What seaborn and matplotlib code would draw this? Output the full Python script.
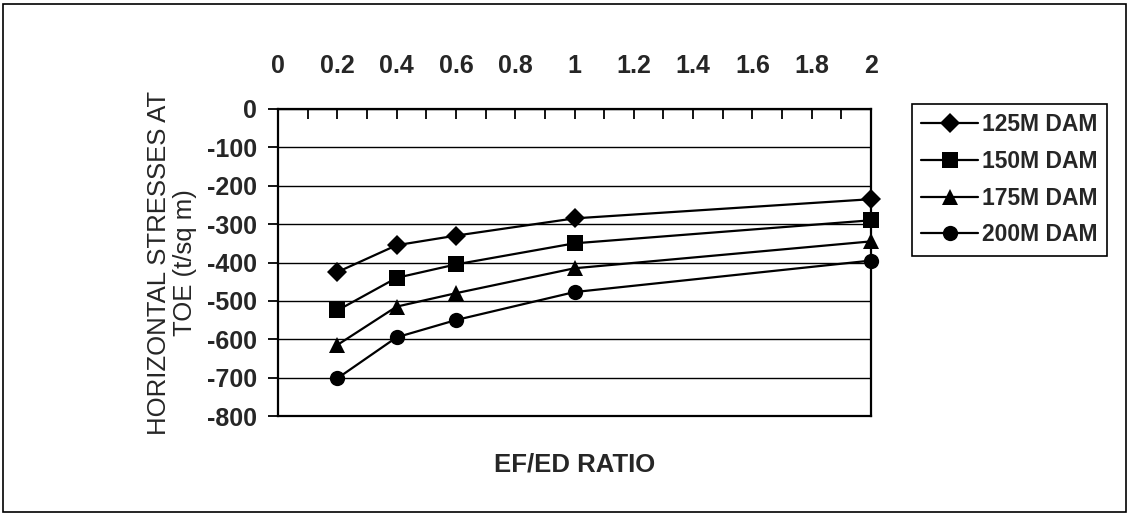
import matplotlib
matplotlib.use("Agg")
import matplotlib.pyplot as plt
from matplotlib.patches import Rectangle
from matplotlib.ticker import MultipleLocator
import numpy as np
import pandas as pd
import seaborn as sns

# EF/ED ratio and horizontal stresses at toe (t/sq m) for each dam height
ratio = [0.2, 0.4, 0.6, 1.0, 2.0]
dam_125 = [-425, -355, -330, -285, -235]
dam_150 = [-525, -440, -405, -350, -290]
dam_175 = [-615, -515, -480, -415, -345]
dam_200 = [-702, -595, -550, -477, -395]
series_names = ["125M DAM", "150M DAM", "175M DAM", "200M DAM"]
x_ticks = [0, 0.2, 0.4, 0.6, 0.8, 1, 1.2, 1.4, 1.6, 1.8, 2]
x_tick_labels = ["0", "0.2", "0.4", "0.6", "0.8", "1", "1.2", "1.4", "1.6", "1.8", "2"]
y_ticks = [0, -100, -200, -300, -400, -500, -600, -700, -800]

frames = []
for name, vals in zip(series_names, [dam_125, dam_150, dam_175, dam_200]):
    frames.append(pd.DataFrame({"ratio": ratio, "stress": vals, "dam": name}))
df = pd.concat(frames, ignore_index=True)

sns.set_theme(style="white")
plt.rcParams["font.family"] = ["Liberation Sans", "DejaVu Sans"]

fig = plt.figure(figsize=(11.29, 5.16), dpi=100)
ax = fig.add_axes([278 / 1129, 1 - 416 / 516, (871 - 278) / 1129, (416 - 109) / 516])

markers = {"125M DAM": "D", "150M DAM": "s", "175M DAM": "^", "200M DAM": "o"}
sizes = {"125M DAM": 10, "150M DAM": 11, "175M DAM": 11, "200M DAM": 11}
palette = {n: "black" for n in series_names}

sns.lineplot(data=df, x="ratio", y="stress", hue="dam", style="dam",
             markers=markers, dashes=False, palette=palette, ax=ax,
             linewidth=1.6, markeredgewidth=0, zorder=3, clip_on=False)
for line, name in zip(ax.get_lines(), series_names):
    line.set_markersize(sizes[name])

ax.set_xlim(0, 2)
ax.set_ylim(-800, 0)

# category axis drawn along the top edge
ax.xaxis.tick_top()
ax.set_xticks(x_ticks)
ax.set_xticklabels(x_tick_labels, fontsize=18, fontweight="bold")
ax.xaxis.set_minor_locator(MultipleLocator(0.1))
ax.tick_params(axis="x", which="both", direction="in", length=7, width=1.3,
               color="black", top=True, bottom=False, pad=22)
ax.set_yticks(y_ticks)
ax.set_yticklabels([str(v) for v in y_ticks], fontsize=18, fontweight="bold")
ax.tick_params(axis="y", which="major", direction="out", length=7, width=1.3,
               color="black", left=True, pad=8)

ax.yaxis.grid(True, color="black", linewidth=1.0)
ax.xaxis.grid(False)
for side in ["left", "right", "top", "bottom"]:
    ax.spines[side].set_visible(True)
    ax.spines[side].set_color("black")
    ax.spines[side].set_linewidth(1.6)

ax.xaxis.set_label_position("bottom")
ax.set_xlabel("EF/ED RATIO", fontsize=18.5, fontweight="bold", labelpad=26)
ax.set_ylabel("HORIZONTAL STRESSES AT\nTOE (t/sq m)", fontsize=18.5, labelpad=7,
              linespacing=1.12)

handles, labels = ax.get_legend_handles_labels()
leg = ax.legend(handles, labels, loc="upper left",
                bbox_to_anchor=(912 / 1129, 1 - 104 / 516),
                bbox_transform=fig.transFigure, borderaxespad=0, frameon=True,
                fancybox=False, edgecolor="black", framealpha=1, handlelength=2.5,
                handletextpad=0.15, labelspacing=0.6, borderpad=0.4,
                prop={"weight": "bold", "size": 16.5})
leg.get_frame().set_linewidth(1.2)
for h, name in zip(leg.legend_handles, series_names):
    h.set_markersize(sizes[name])
    h.set_linewidth(1.6)

# outer chart border
fig.patches.append(Rectangle((0.003, 0.008), 0.994, 0.984, transform=fig.transFigure,
                             fill=False, edgecolor="black", linewidth=1.2))

fig.savefig("out.png", dpi=100, facecolor="white")
